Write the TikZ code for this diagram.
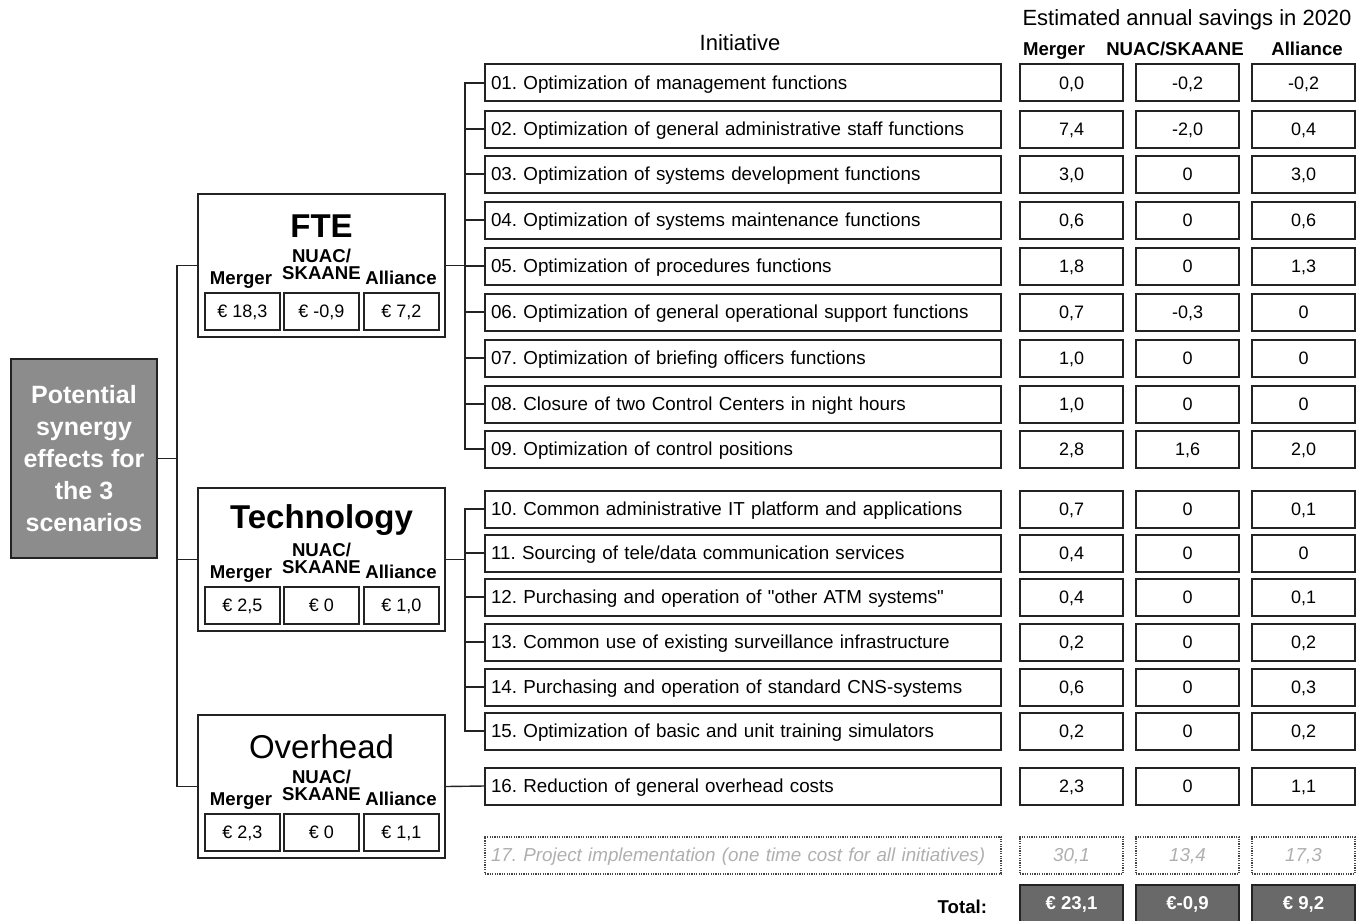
\documentclass[tikz,border=0pt]{standalone}
\usepackage{fontspec}
\setmainfont{Liberation Sans}[Ligatures=TeXOff]
\usetikzlibrary{positioning, calc}
\definecolor{SynGray}{RGB}{140,140,140}
\definecolor{TotGray}{RGB}{105,105,105}
\definecolor{EdgeDark}{RGB}{35,35,35}
\definecolor{FadeGray}{RGB}{175,175,175}

\begin{document}
\frenchspacing
\begin{tikzpicture}[x=0.5pt, y=-0.5pt,
    rowbox/.style={rectangle, draw=EdgeDark, line width=1pt, minimum height=18.5pt,
                   text width=252pt, inner xsep=3pt, align=left,
                   text height=7.3pt, text depth=0.5pt,
                   font=\fontsize{9.4}{11}\selectfont},
    valbox/.style={rectangle, draw=EdgeDark, line width=1pt, minimum width=51.5pt,
                   minimum height=18.5pt, inner sep=0pt, text height=7.3pt, text depth=0.5pt,
                   font=\fontsize{9}{11}\selectfont},
    grpbox/.style={rectangle, draw=EdgeDark, line width=1pt, minimum width=123.5pt,
                   minimum height=71.5pt},
    grpval/.style={valbox, minimum width=37.5pt},
    colhd/.style={font=\fontsize{9.3}{10}\bfseries\selectfont, inner sep=0pt},
    fade/.style={draw=EdgeDark!85, dash pattern=on 0.6pt off 0.6pt, text=FadeGray,
                 font=\fontsize{9.4}{11}\itshape\selectfont},
    tot/.style={valbox, fill=TotGray, text=white, font=\fontsize{9.3}{11}\bfseries\selectfont},
    conn/.style={line width=0.7pt, EdgeDark}
  ]
  \useasboundingbox (0,0) rectangle (1363,920);

  % root
  \node[rectangle, draw=EdgeDark, line width=1pt, fill=SynGray, text=white,
        minimum width=73pt, minimum height=99.5pt, align=center,
        font=\fontsize{12.5}{16}\bfseries\selectfont] (root) at (84,458.5)
        {Potential\\synergy\\effects for\\the 3\\scenarios};

  % headers
  \node[font=\fontsize{11}{12}\selectfont] (inihd) at (740,43) {Initiative};
  \node[font=\fontsize{11}{12}\selectfont] (savhd) at (1187,20) {Estimated annual savings in 2020};
  \node[colhd, anchor=base] (mhd) at (1054,56) {Merger};
  \node[colhd, anchor=base] (nhd) at (1175,56) {NUAC/SKAANE};
  \node[colhd, anchor=base] (ahd) at (1307,56) {Alliance};

  % groups
  \foreach \g/\top/\ttl/\wt/\m/\n/\a in {fte/194/FTE/\bfseries/{18,3}/{-0,9}/{7,2},
      tech/488/Technology/\bfseries/{2,5}/0/{1,0}, ovh/715/Overhead/\mdseries/{2,3}/0/{1,1}} {
    \node[grpbox] (\g) at (321.5,\top+71.5) {};
    \node[font=\fontsize{16.5}{18}\selectfont\wt] (\g-t) at (321.5,\top+32) {\ttl};
    \node[colhd, anchor=base] (\g-hn1) at (321.5,\top+68) {NUAC/};
    \node[colhd, anchor=base] (\g-hn2) at (321.5,\top+85) {SKAANE};
    \node[colhd, anchor=base] (\g-hm) at (241,\top+90) {Merger};
    \node[colhd, anchor=base] (\g-ha) at (401,\top+90) {Alliance};
    \node[grpval] (\g-m) at (242.5,\top+117) {€ \m};
    \node[grpval] (\g-n) at (321.5,\top+117) {€ \n};
    \node[grpval] (\g-a) at (401.5,\top+117) {€ \a};
  }

  % initiatives
  \foreach \i/\y/\txt/\m/\n/\a in {
      01/83/{Optimization of management functions}/{0,0}/{-0,2}/{-0,2},
      02/129/{Optimization of general administrative staff functions}/{7,4}/{-2,0}/{0,4},
      03/174/{Optimization of systems development functions}/{3,0}/0/{3,0},
      04/220/{Optimization of systems maintenance functions}/{0,6}/0/{0,6},
      05/266/{Optimization of procedures functions}/{1,8}/0/{1,3},
      06/312/{Optimization of general operational support functions}/{0,7}/{-0,3}/0,
      07/358/{Optimization of briefing officers functions}/{1,0}/0/0,
      08/404/{Closure of two Control Centers in night hours}/{1,0}/0/0,
      09/449/{Optimization of control positions}/{2,8}/{1,6}/{2,0},
      10/509/{Common administrative IT platform and applications}/{0,7}/0/{0,1},
      11/553/{Sourcing of tele/data communication services}/{0,4}/0/0,
      12/597/{Purchasing and operation of "other ATM systems"}/{0,4}/0/{0,1},
      13/642/{Common use of existing surveillance infrastructure}/{0,2}/0/{0,2},
      14/687/{Purchasing and operation of standard CNS-systems}/{0,6}/0/{0,3},
      15/731/{Optimization of basic and unit training simulators}/{0,2}/0/{0,2},
      16/786/{Reduction of general overhead costs}/{2,3}/0/{1,1}} {
    \node[rowbox] (ini\i) at (743,\y) {\i. \txt};
    \node[valbox] (m\i) at (1071.5,\y) {\m};
    \node[valbox] (n\i) at (1187.5,\y) {\n};
    \node[valbox] (a\i) at (1303.5,\y) {\a};
  }

  % project implementation
  \node[rowbox, fade] (ini17) at (743,855) {17. Project implementation (one time cost for all initiatives)};
  \node[valbox, fade] (m17) at (1071.5,855) {30,1};
  \node[valbox, fade] (n17) at (1187.5,855) {13,4};
  \node[valbox, fade] (a17) at (1303.5,855) {17,3};

  % total
  \node[font=\fontsize{9.3}{11}\bfseries\selectfont, anchor=east] (totlbl) at (994,907) {Total:};
  \node[tot] (mtot) at (1071.5,903) {€ 23,1};
  \node[tot] (ntot) at (1187.5,903) {€-0,9};
  \node[tot] (atot) at (1303.5,903) {€ 9,2};

  % connectors
  \coordinate (trunk) at (177,458.5);
  \coordinate (ftebus) at (465,265.5);
  \coordinate (techbus) at (465,559.5);
  \draw[conn] (root.east) -- (trunk);
  \draw[conn] (fte.west) -| (trunk) |- (ovh.west);
  \draw[conn] (tech.west) -- (tech.west -| trunk);
  \draw[conn] (fte.east) -- (ftebus);
  \draw[conn] (ini01.west) -| (ftebus |- ini09.west) -- (ini09.west);
  \foreach \i in {02,03,04,05,06,07,08}
    \draw[conn] (ini\i.west) -- (ini\i.west -| ftebus);
  \draw[conn] (tech.east) -- (techbus);
  \draw[conn] (ini10.west) -| (techbus |- ini15.west) -- (ini15.west);
  \foreach \i in {11,12,13,14}
    \draw[conn] (ini\i.west) -- (ini\i.west -| techbus);
  \draw[conn] (ovh.east) -- (ini16.west);
\end{tikzpicture}
\end{document}
